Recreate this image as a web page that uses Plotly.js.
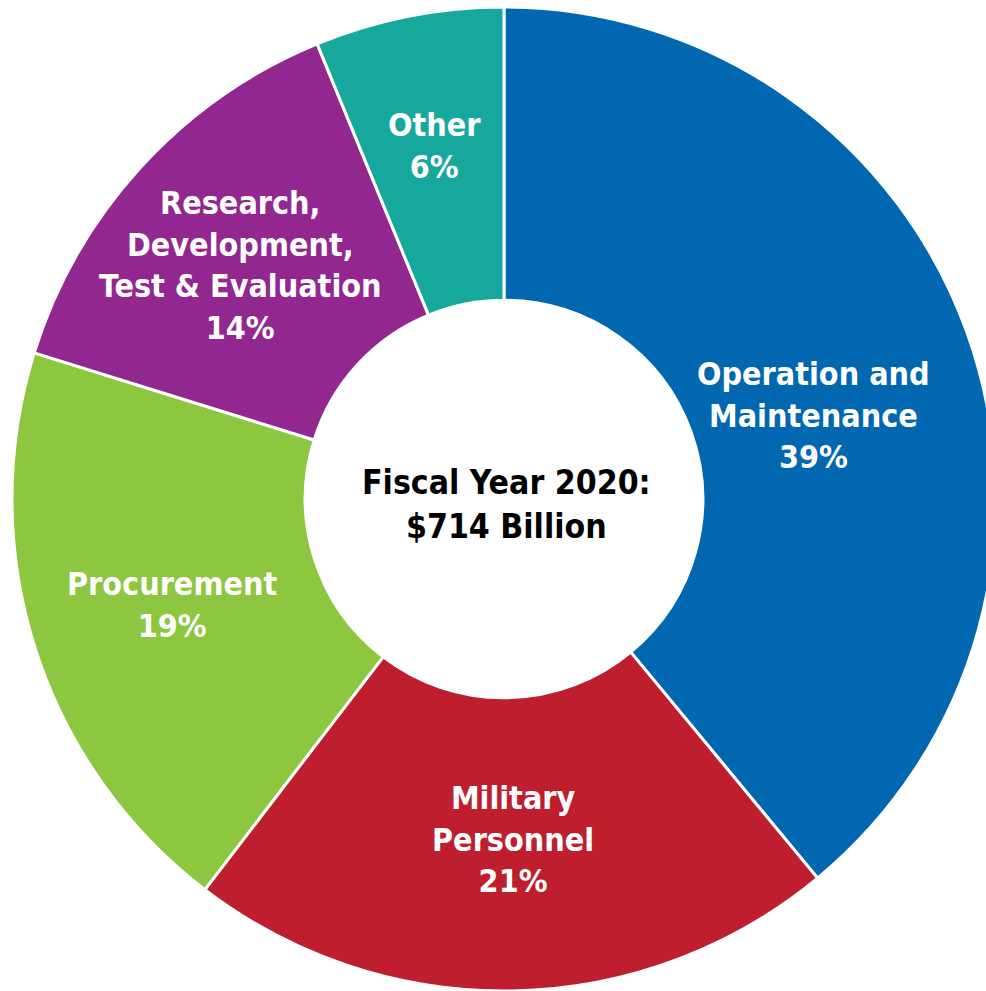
<!DOCTYPE html>
<html>
<head>
<meta charset="utf-8">
<script src="https://cdn.plot.ly/plotly-3.0.1.min.js"></script>
<style>
html,body{margin:0;padding:0;overflow:hidden;background:#fff;}
#chart{width:1010px;height:1000px;}
</style>
</head>
<body>
<div id="chart"></div>
<script>
const categories = ["Operation and Maintenance", "Military Personnel", "Procurement", "Research, Development, Test & Evaluation", "Other"];
const shares = [39.0, 21.4, 19.4, 14.0, 6.2];
const percentLabels = ["39%", "21%", "19%", "14%", "6%"];
const labelLines = [
  ["Operation and", "Maintenance"],
  ["Military", "Personnel"],
  ["Procurement"],
  ["Research,", "Development,", "Test & Evaluation"],
  ["Other"]
];
const colors = ["#0167B1", "#BE1E2D", "#8DC63F", "#92278F", "#17A89D"];
const centerTitle = ["Fiscal Year 2020:", "$714 Billion"];

const W = 1010, H = 1000;
const cx = 504, cy = 499, R = 492;
const font = "'DejaVu Sans Condensed', 'Liberation Sans Narrow', sans-serif";

const trace = {
  type: "pie",
  labels: categories,
  values: shares,
  sort: false,
  direction: "clockwise",
  rotation: 0,
  hole: 0.404,
  marker: {colors: colors, line: {color: "#ffffff", width: 3}},
  textinfo: "none",
  hoverinfo: "label+percent",
  showlegend: false,
  domain: {x: [(cx - R) / W, (cx + R) / W], y: [(H - cy - R) / H, (H - cy + R) / H]}
};

// label anchor positions (pixels from top-left), layout only
const labelPos = [[813, 416], [513, 839], [172, 605], [240, 265], [434, 146]];
const annotations = categories.map((c, i) => ({
  xref: "paper", yref: "paper",
  x: labelPos[i][0] / W, y: 1 - labelPos[i][1] / H,
  xanchor: "center", yanchor: "middle",
  text: "<b>" + labelLines[i].concat([percentLabels[i]]).join("<br>") + "</b>",
  showarrow: false,
  font: {family: font, size: 32, color: "#ffffff"},
  align: "center"
}));
annotations.push({
  xref: "paper", yref: "paper",
  x: 506 / W, y: 1 - 504 / H,
  xanchor: "center", yanchor: "middle",
  text: "<b>" + centerTitle.join("<br>") + "</b>",
  showarrow: false,
  font: {family: font, size: 33.5, color: "#000000"},
  align: "center"
});

Plotly.newPlot("chart", [trace], {
  width: W, height: H,
  margin: {l: 0, r: 0, t: 0, b: 0},
  paper_bgcolor: "#ffffff",
  annotations: annotations
}, {displayModeBar: false, staticPlot: true});
</script>
</body>
</html>
